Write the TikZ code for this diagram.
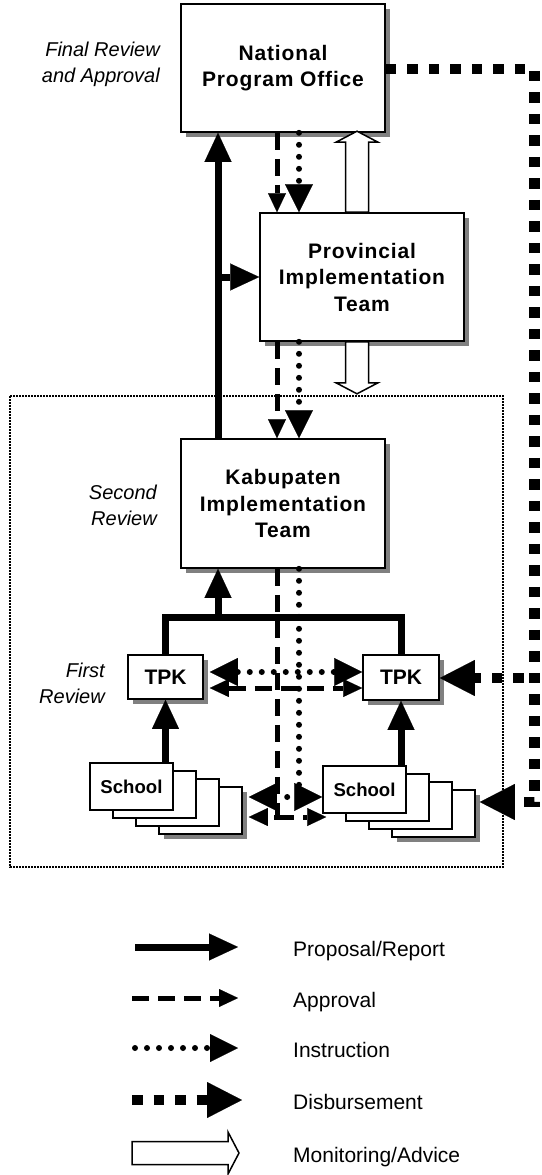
\documentclass[tikz,border=0pt]{standalone}
\usepackage{fontspec}
\setmainfont{Liberation Sans}
\newfontfamily\boxfont[LetterSpace=4]{Liberation Sans}
\usetikzlibrary{arrows.meta,shadows,calc}
\def\hollowarrow[#1](#2)(#3:#4){\draw[#1,shift={(#2)},rotate=#3] (0,11.5) -- ({#4-11},11.5) -- ({#4-11},21) -- (#4,0) -- ({#4-11},-21) -- ({#4-11},-11.5) -- (0,-11.5) -- cycle;}

\tikzset{
	reptip/.tip={Triangle[length=29pt,width=27pt,line width=0.1pt]},
	apptip/.tip={Triangle[length=19pt,width=18pt,line width=0.1pt]},
	instip/.tip={Triangle[length=28pt,width=28pt,line width=0.1pt]},
	distip/.tip={Triangle[length=35pt,width=36pt,line width=0.1pt]},
	report/.style={line width=7pt, -reptip},
	approval/.style={line width=5pt, dash pattern=on 17pt off 9pt, -apptip},
	instruction/.style={line width=6pt, line cap=round, dash pattern=on 0pt off 12pt, -instip},
	disburse/.style={line width=10.5pt, dash pattern=on 10.5pt off 11pt, -distip},
	advice/.style={draw, line width=1.5pt, fill=white, line join=miter},
	shade/.style={drop shadow={shadow xshift=5pt, shadow yshift=-5pt, fill=black!50, opacity=1}},
	box/.style={draw, line width=1.6pt, fill=white, inner sep=0pt, align=center, shade},
	bigbox/.style={box, minimum width=204pt, minimum height=128pt, font=\boxfont\bfseries\fontsize{21}{26.5}\selectfont},
	tpkbox/.style={box, minimum width=75pt, minimum height=44pt, font=\bfseries\fontsize{21}{25}\selectfont},
	card/.style={draw, line width=1.6pt, fill=white, inner sep=0pt, minimum width=83pt, minimum height=47pt, font=\bfseries\fontsize{18.6}{22}\selectfont},
	backcard/.style={card, shade},
	review/.style={align=right, anchor=east, inner sep=0pt, font=\itshape\fontsize{20}{26}\selectfont},
	keytext/.style={anchor=base west, inner sep=0pt, font=\fontsize{21}{24}\selectfont},
}

\begin{document}
\begin{tikzpicture}[x=1pt, y=-1pt]
			%%%%% START %%%%%
			\useasboundingbox (0,0) rectangle (541,1175);
			
			\draw[line width=2.5pt, dash pattern=on 2pt off 1pt] (10,396) rectangle (503,867);
			
			\node[bigbox] (npo) at (283,68) {National\\Program Office};
			\node[bigbox] (pit) at (362,277) {Provincial\\Implementation\\Team};
			\node[bigbox, minimum height=129pt] (kit) at (283,503.5) {Kabupaten\\Implementation\\Team};
			
			\node[review] (final) at (160,64) {Final Review\\and Approval};
			\node[review] (second) at (157,505) {Second\\Review};
			\node[review] (first) at (105,683) {First\\Review};
			
			\node[tpkbox] (tpkL) at (165.5,677) {TPK};
			\node[tpkbox, minimum width=76pt, minimum height=45pt] (tpkR) at (401,677.5) {TPK};
			
			\node[backcard] (schL4) at (200.5,810.5) {};
			\node[card] (schL3) at (177.5,802.5) {};
			\node[card] (schL2) at (154.5,794.5) {};
			\node[card] (schL1) at (131.5,786.5) {School};
			
			\node[backcard] (schR4) at (433.5,813.5) {};
			\node[card] (schR3) at (410.5,805.5) {};
			\node[card] (schR2) at (387.5,797.5) {};
			\node[card] (schR1) at (364.5,789.5) {School};
			
			\coordinate (xrep) at (218,0);
			\coordinate (xapp) at (277,0);
			\coordinate (xins) at (299,0);
			\coordinate (xadv) at (357,0);
			\coordinate (bus) at (218,617);
			\coordinate (insrow) at (0,672);
			\coordinate (approw) at (0,688);
			\coordinate (botins) at (299,797);
			\coordinate (botapp) at (277,817);
			\coordinate (dtop) at (534.5,69);
			\coordinate (dtpk) at (534.5,678);
			\coordinate (dbot) at (534.5,802);
			
			% proposals going up
			\draw[report] (kit.north -| xrep) -- (npo.south -| xrep);
			\draw[report] (pit.west -| xrep) -- (pit.west);
			\draw[line width=7pt] (tpkL.north) |- (bus) -| (tpkR.north);
			\draw[report] (bus) -- (kit.south -| bus);
			\draw[report] (schL1.north -| tpkL.south) -- (tpkL.south);
			\draw[report] (schR1.north -| tpkR.south) -- (tpkR.south);
			
			% approvals and instructions going down
			\draw[approval] (npo.south -| xapp) -- (pit.north -| xapp);
			\draw[instruction] (npo.south -| xins) -- (pit.north -| xins);
			\draw[approval] (pit.south -| xapp) -- (kit.north -| xapp);
			\draw[instruction] (pit.south -| xins) -- (kit.north -| xins);
			\draw[instruction, instip-instip] ($(tpkL.east |- insrow)+(6,0)$) -- (tpkR.west |- insrow);
			\draw[approval, apptip-apptip] ($(tpkL.east |- approw)+(6,0)$) -- (tpkR.west |- approw);
			\draw[instruction] (kit.south -| xins) -- (botins) -- ($(schL4.east |- botins)+(6,0)$);
			\draw[instruction] (botins) -- (schR1.west |- botins);
			\draw[approval] (kit.south -| xapp) -- (botapp) -- ($(schL4.east |- botapp)+(6,0)$);
			\draw[approval] (botapp) -- ($(schR1.west |- botapp)+(4,0)$);
			
			% disbursement
			\draw[disburse] (npo.east |- dtop) -- (dtop) -- (dbot) -- ($(schR4.east |- dbot)+(4,0)$);
			\draw[disburse, dash phase=10.5pt] (dtpk) -- (tpkR.east |- dtpk);
			
			% monitoring
			\hollowarrow[advice](pit.north -| xadv)(90:81);
			\hollowarrow[advice](pit.south -| xadv)(-90:52);
			
			% legend
			\coordinate (k1a) at (135,947); \coordinate (k1b) at (238,947);
			\coordinate (k2a) at (132,998); \coordinate (k2b) at (238,998);
			\coordinate (k3a) at (135,1048); \coordinate (k3b) at (238,1048);
			\coordinate (k4a) at (132,1100); \coordinate (k4b) at (242,1100);
			\coordinate (k5a) at (132,1153);
			
			\draw[report] (k1a) -- (k1b);
			\draw[approval] (k2a) -- (k2b);
			\draw[instruction] (k3a) -- (k3b);
			\draw[disburse] (k4a) -- (k4b);
			\hollowarrow[advice](k5a)(0:107);
			
			\node[keytext] (k1) at (293,956) {Proposal/Report};
			\node[keytext] (k2) at (293,1007) {Approval};
			\node[keytext] (k3) at (293,1057) {Instruction};
			\node[keytext] (k4) at (293,1109) {Disbursement};
			\node[keytext] (k5) at (293,1162) {Monitoring/Advice};
			
			%%%%% END %%%%%
\end{tikzpicture}
\end{document}
